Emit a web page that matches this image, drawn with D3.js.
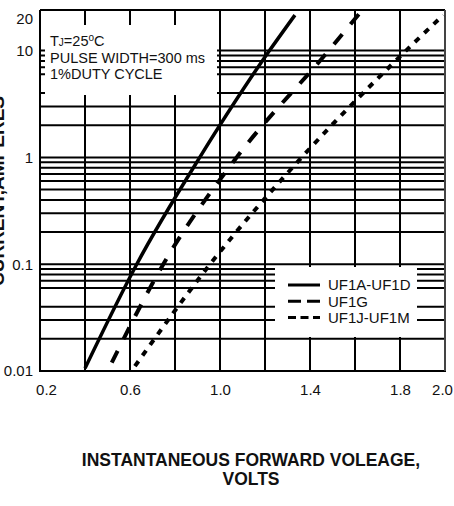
<!DOCTYPE html>
<html>
<head>
<meta charset="utf-8">
<script src="https://cdn.jsdelivr.net/npm/d3@7"></script>
<style>
  body{margin:0;background:#fff}
  svg{display:block}
</style>
</head>
<body>
<div id="chart"></div>
<script>
// forward voltage (V) against forward current (A)
const seriesNames = ['UF1A-UF1D', 'UF1G', 'UF1J-UF1M']
const voltsAD = [0.40, 0.63, 0.91, 1.22, 1.333]
const ampsAD  = [0.0106, 0.1, 1, 10, 21.5]
const voltsG  = [0.519, 0.748, 1.074, 1.483, 1.622]
const ampsG   = [0.012, 0.1, 1, 10, 22.6]
const voltsJM = [0.622, 0.956, 1.363, 1.827, 1.992]
const ampsJM  = [0.0111, 0.1, 1, 10, 21.5]

// axis ticks and grid values
const xTicks = [0.2, 0.6, 1.0, 1.4, 1.8, 2.0]
const xGrid = [0.4, 0.6, 0.8, 1.0, 1.2, 1.4, 1.6, 1.8]
const yTicks = [0.01, 0.1, 1, 10, 20]
const yGrid = [0.02, 0.03, 0.04, 0.06, 0.07, 0.08, 0.09, 0.1,
               0.2, 0.3, 0.4, 0.5, 0.6, 0.7, 0.8, 0.9, 1,
               2, 3, 4, 6, 7, 8, 9, 10]

const noteLines = ['PULSE WIDTH=300 ms', '1%DUTY CYCLE']
const xTitle = ['INSTANTANEOUS FORWARD VOLEAGE,', 'VOLTS']
const yTitle = ['INSTANTANEOUS FORWARD', 'CURRENT,AMPERES']

const W = 454, H = 506
const plot = {left: 40, right: 445, top: 10, bottom: 371}

const svg = d3.select('#chart').append('svg')
    .attr('width', W)
    .attr('height', H)
    .style('font-family', 'Arial, "Liberation Sans", sans-serif')

const x = d3.scaleLinear().domain([0.2, 2.0]).range([plot.left, plot.right])
const y = d3.scaleLog().domain([0.01, 24]).range([plot.bottom, plot.top])

//Grid
svg.append('g').selectAll('line')
    .data(yGrid)
    .join('line')
    .attr('x1', plot.left).attr('x2', plot.right)
    .attr('y1', d => y(d)).attr('y2', d => y(d))
    .attr('stroke', '#000').attr('stroke-width', 2)

svg.append('g').selectAll('line')
    .data(xGrid)
    .join('line')
    .attr('x1', d => x(d)).attr('x2', d => x(d))
    .attr('y1', plot.top).attr('y2', plot.bottom)
    .attr('stroke', '#000').attr('stroke-width', 2)

//white boxes behind the note and the legend
svg.append('rect')
    .attr('x', 45).attr('y', 25).attr('width', 172).attr('height', 70)
    .attr('fill', '#fff')
svg.append('rect')
    .attr('x', 275).attr('y', 267).attr('width', 142).attr('height', 70)
    .attr('fill', '#fff')

//frame
svg.append('line').attr('x1', plot.left).attr('x2', plot.right)
    .attr('y1', plot.top).attr('y2', plot.top)
    .attr('stroke', '#000').attr('stroke-width', 2)
svg.append('line').attr('x1', plot.left - 1).attr('x2', plot.right + 1)
    .attr('y1', plot.bottom).attr('y2', plot.bottom)
    .attr('stroke', '#000').attr('stroke-width', 2)
svg.append('line').attr('x1', plot.left).attr('x2', plot.left)
    .attr('y1', plot.top).attr('y2', plot.bottom)
    .attr('stroke', '#000').attr('stroke-width', 2)
svg.append('line').attr('x1', plot.right).attr('x2', plot.right)
    .attr('y1', plot.top).attr('y2', plot.bottom)
    .attr('stroke', '#444').attr('stroke-width', 2)

//curves
const styles = [
    {dash: null, width: 3.5},
    {dash: '13,13', width: 4},
    {dash: '6,7', width: 4}
]
const series = [
    voltsAD.map((v, i) => [v, ampsAD[i]]),
    voltsG.map((v, i) => [v, ampsG[i]]),
    voltsJM.map((v, i) => [v, ampsJM[i]])
]
const line = d3.line()
    .x(d => x(d[0]))
    .y(d => y(d[1]))
    .curve(d3.curveMonotoneX)

svg.append('g').selectAll('path')
    .data(series)
    .join('path')
    .attr('d', line)
    .attr('fill', 'none')
    .attr('stroke', '#000')
    .attr('stroke-width', (d, i) => styles[i].width)
    .attr('stroke-dasharray', (d, i) => styles[i].dash)

//axes (labels only)
const xAxis = svg.append('g')
    .attr('transform', `translate(0,${plot.bottom})`)
    .call(d3.axisBottom(x).tickValues(xTicks).tickFormat(d3.format('.1f')).tickSize(0).tickPadding(13))
const yAxis = svg.append('g')
    .attr('transform', `translate(${plot.left},0)`)
    .call(d3.axisLeft(y).tickValues(yTicks).tickFormat(d => String(d)).tickSize(0).tickPadding(7))
xAxis.select('.domain').remove()
yAxis.select('.domain').remove()
svg.selectAll('.tick text')
    .attr('font-family', 'Arial, "Liberation Sans", sans-serif')
    .attr('font-size', 15)
    .attr('fill', '#111')
//first and last x labels sit a bit inside the frame
xAxis.selectAll('.tick text')
    .attr('dx', d => d == 0.2 ? 6 : d == 2.0 ? -3 : 0)

//note
const note = svg.append('text')
    .attr('x', 50).attr('y', 46)
    .attr('font-size', 14.5).attr('fill', '#111')
note.append('tspan').text('T')
note.append('tspan').attr('font-size', 10).text('J')
note.append('tspan').text('=25')
note.append('tspan').attr('font-size', 10).attr('dy', -5).text('o')
note.append('tspan').attr('dy', 5).text('C')
svg.append('g').selectAll('text')
    .data(noteLines)
    .join('text')
    .attr('x', 50)
    .attr('y', (d, i) => 63 + i * 16)
    .attr('font-size', 14.5)
    .attr('fill', '#111')
    .text(d => d)

//legend
const legend = svg.append('g').selectAll('g')
    .data(seriesNames)
    .join('g')
    .attr('transform', (d, i) => `translate(288,${285 + i * 16.2})`)
legend.append('line')
    .attr('x1', 0).attr('x2', 32)
    .attr('stroke', '#000')
    .attr('stroke-width', 3)
    .attr('stroke-dasharray', (d, i) => [null, '13,6', '8,4.5'][i])
legend.append('text')
    .attr('x', 40).attr('dy', '0.36em')
    .attr('font-size', 15).attr('fill', '#111')
    .text(d => d)

//axis titles
svg.append('g').selectAll('text')
    .data(xTitle)
    .join('text')
    .attr('x', 251)
    .attr('y', (d, i) => 466 + i * 18.5)
    .attr('text-anchor', 'middle')
    .attr('font-size', 17.5).attr('font-weight', 'bold')
    .attr('fill', '#111')
    .text(d => d)

//y title mostly falls outside the picture, as in the original
svg.append('g').selectAll('text')
    .data(yTitle)
    .join('text')
    .attr('transform', (d, i) => `translate(${4 - (1 - i) * 18},191) rotate(-90)`)
    .attr('text-anchor', 'middle')
    .attr('font-size', 19).attr('font-weight', 'bold')
    .attr('fill', '#111')
    .text(d => d)
</script>
</body>
</html>
